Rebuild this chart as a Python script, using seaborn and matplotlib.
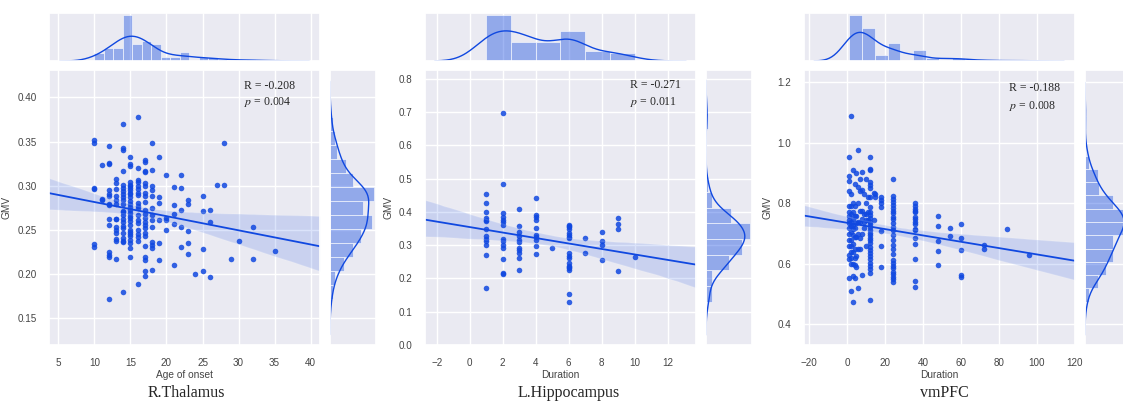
import numpy as np
import pandas as pd
import matplotlib.pyplot as plt
import seaborn as sns

sns.set_theme(style='darkgrid')
plt.rcParams['font.family'] = ['Liberation Sans', 'DejaVu Sans']
plt.rcParams['mathtext.fontset'] = 'stix'

BLUE = '#1048e0'

# R.Thalamus: GMV grouped by age of onset
thal_onset = [10, 11, 12, 13, 14, 15, 16, 17, 18, 19, 20, 21, 22, 23, 24, 25, 26, 27, 28, 29, 30, 32, 35]
thal_gmv = [
    [0.352, 0.349, 0.297, 0.296, 0.234, 0.231],
    [0.323, 0.285, 0.284],
    [0.345, 0.326, 0.325, 0.295, 0.291, 0.288, 0.279, 0.278, 0.263, 0.256, 0.225, 0.222, 0.220, 0.172],
    [0.308, 0.303, 0.296, 0.289, 0.284, 0.279, 0.263, 0.262, 0.254, 0.250, 0.247, 0.240, 0.238, 0.217],
    [0.370, 0.343, 0.340, 0.317, 0.301, 0.297, 0.294, 0.291, 0.287, 0.284, 0.280, 0.272, 0.270,
     0.267, 0.262, 0.259, 0.255, 0.252, 0.247, 0.241, 0.238, 0.236, 0.180],
    [0.333, 0.325, 0.322, 0.304, 0.301, 0.300, 0.298, 0.295, 0.292, 0.291, 0.287, 0.283, 0.279, 0.276,
     0.273, 0.269, 0.266, 0.264, 0.260, 0.256, 0.250, 0.248, 0.246, 0.243, 0.239, 0.235, 0.230, 0.219],
    [0.378, 0.320, 0.307, 0.304, 0.300, 0.296, 0.292, 0.290, 0.281, 0.277, 0.275, 0.267, 0.261, 0.258,
     0.250, 0.246, 0.242, 0.238, 0.189],
    [0.329, 0.327, 0.317, 0.316, 0.303, 0.300, 0.292, 0.288, 0.282, 0.273, 0.268, 0.264, 0.259, 0.256,
     0.252, 0.247, 0.243, 0.232, 0.220, 0.216, 0.204, 0.198],
    [0.349, 0.318, 0.300, 0.295, 0.288, 0.275, 0.267, 0.261, 0.254, 0.236, 0.233, 0.230, 0.205],
    [0.333, 0.287, 0.281, 0.261, 0.235, 0.216],
    [0.312, 0.264, 0.261, 0.250],
    [0.299, 0.278, 0.268, 0.257, 0.210],
    [0.312, 0.297, 0.273, 0.254, 0.231],
    [0.284, 0.280, 0.249, 0.235, 0.223],
    [0.200],
    [0.288, 0.272, 0.229, 0.204],
    [0.273, 0.259, 0.197],
    [0.301],
    [0.349, 0.301],
    [0.217],
    [0.238],
    [0.253, 0.217],
    [0.226],
]

# L.Hippocampus: GMV grouped by duration
hipp_duration = [1, 2, 3, 4, 5, 6, 7, 8, 9, 10]
hipp_gmv = [
    [0.454, 0.427, 0.401, 0.382, 0.377, 0.372, 0.349, 0.327, 0.319, 0.313, 0.302, 0.272, 0.172],
    [0.697, 0.484, 0.397, 0.385, 0.377, 0.369, 0.362, 0.319, 0.314, 0.302, 0.292, 0.259, 0.217, 0.213],
    [0.409, 0.359, 0.341, 0.327, 0.317, 0.309, 0.292, 0.285, 0.277, 0.262, 0.225],
    [0.442, 0.392, 0.385, 0.375, 0.353, 0.332, 0.325, 0.317, 0.299, 0.275],
    [0.291],
    [0.362, 0.357, 0.355, 0.350, 0.338, 0.330, 0.326, 0.322, 0.277, 0.268, 0.261, 0.246, 0.238, 0.234,
     0.231, 0.225, 0.152, 0.130],
    [0.322, 0.277],
    [0.339, 0.312, 0.302, 0.257],
    [0.382, 0.365, 0.349, 0.224],
    [0.265],
]

# vmPFC: GMV grouped by duration
vmpfc_duration = [1, 2, 3, 4, 5, 6, 7, 8, 9, 10, 11, 12, 14, 15, 18, 24, 36, 48, 54, 60, 72, 84, 96]
vmpfc_gmv = [
    [0.955, 0.890, 0.875, 0.840, 0.790, 0.770, 0.760, 0.745, 0.735, 0.720, 0.700, 0.680, 0.660, 0.630, 0.615, 0.555],
    [1.090, 0.830, 0.790, 0.765, 0.740, 0.725, 0.705, 0.680, 0.660, 0.640, 0.620, 0.600, 0.510],
    [0.910, 0.800, 0.770, 0.750, 0.730, 0.715, 0.695, 0.665, 0.640, 0.600, 0.560, 0.475],
    [0.865, 0.790, 0.760, 0.720, 0.690, 0.650, 0.620, 0.595, 0.555],
    [0.900, 0.760, 0.735, 0.690, 0.625, 0.590],
    [0.975, 0.855, 0.800, 0.740, 0.700, 0.650, 0.520],
    [0.880, 0.840, 0.775, 0.740, 0.685, 0.650],
    [0.905, 0.845, 0.775, 0.750, 0.700, 0.565],
    [0.830, 0.765, 0.740, 0.720],
    [0.880, 0.800, 0.765, 0.745, 0.660],
    [0.820, 0.770, 0.745],
    [0.954, 0.915, 0.910, 0.872, 0.862, 0.850, 0.822, 0.789, 0.770, 0.762, 0.751, 0.740, 0.732, 0.723, 0.712,
     0.703, 0.695, 0.686, 0.679, 0.668, 0.657, 0.646, 0.635, 0.626, 0.615, 0.604, 0.593, 0.582, 0.571, 0.480],
    [0.835, 0.745],
    [0.830, 0.820],
    [0.820, 0.810, 0.800, 0.789, 0.710, 0.659, 0.591],
    [0.880, 0.824, 0.814, 0.806, 0.794, 0.786, 0.776, 0.767, 0.756, 0.747, 0.734, 0.723, 0.712, 0.695,
     0.679, 0.662, 0.648, 0.633, 0.613, 0.604, 0.594, 0.585, 0.574, 0.566, 0.557, 0.549, 0.541],
    [0.802, 0.793, 0.783, 0.775, 0.770, 0.755, 0.748, 0.739, 0.731, 0.717, 0.711, 0.687, 0.665, 0.616, 0.544, 0.525],
    [0.759, 0.725, 0.676, 0.643, 0.598],
    [0.719, 0.693],
    [0.731, 0.686, 0.645, 0.563, 0.557],
    [0.664, 0.648],
    [0.717],
    [0.630],
]

titles = ['R.Thalamus', 'L.Hippocampus', 'vmPFC']
x_labels = ['Age of onset', 'Duration', 'Duration']
r_texts = ['R = -0.208', 'R = -0.271', 'R = -0.188']
p_texts = ['0.004', '0.011', '0.008']


def expand(xs, ys):
    x = np.repeat(xs, [len(v) for v in ys])
    y = np.concatenate(ys)
    return pd.DataFrame({'x': x, 'y': y})


W, H = 1123, 403

# pixel layout of each panel: joint left, title centre, limits, text pos, bins
panels = [
    dict(df=expand(thal_onset, thal_gmv), left=49, tx=186.5, xlim=(3.7, 41.3), ylim=(0.12, 0.431),
         xticks=np.arange(5, 41, 5), yticks=np.arange(0.15, 0.41, 0.05), txt=(0.72, 0.942, 0.884),
         xbins=19, ybins=13),
    dict(df=expand(hipp_duration, hipp_gmv), left=425, tx=568.7, xlim=(-2.71, 13.72), ylim=(0.0, 0.827),
         xticks=np.arange(-2, 13, 2), yticks=np.arange(0, 0.81, 0.1), txt=(0.756, 0.945, 0.885),
         xbins=6, ybins=12),
    dict(df=expand(vmpfc_duration, vmpfc_gmv), left=804, tx=944, xlim=(-22.6, 120), ylim=(0.332, 1.241),
         xticks=np.arange(-20, 121, 20), yticks=np.arange(0.4, 1.21, 0.2), txt=(0.757, 0.933, 0.87),
         xbins=14, ybins=14),
]

fig = plt.figure(figsize=(W / 100, H / 100), dpi=100)

for i, pnl in enumerate(panels):
    left = pnl['left']
    df = pnl['df']
    ax = fig.add_axes([left / W, 1 - 345 / H, 271 / W, 275 / H])
    ax_top = fig.add_axes([left / W, 1 - 61 / H, 271 / W, 48 / H], sharex=ax)
    ax_right = fig.add_axes([(left + 281) / W, 1 - 345 / H, 46 / W, 275 / H], sharey=ax)

    ax.set_xlim(pnl['xlim'])
    ax.set_ylim(pnl['ylim'])
    sns.regplot(data=df, x='x', y='y', ax=ax, color=BLUE, truncate=False, seed=0,
                scatter_kws={'s': 16, 'alpha': 0.85, 'linewidths': 0},
                line_kws={'lw': 1.3})
    ax.set_xlim(pnl['xlim'])
    ax.set_ylim(pnl['ylim'])
    ax.set_xticks(pnl['xticks'])
    ax.set_yticks(pnl['yticks'])
    ax.tick_params(labelsize=7.1, pad=3, labelcolor='#444444')
    ax.set_xlabel(x_labels[i], fontsize=7.3, labelpad=2, color='#444444')
    ax.set_ylabel('GMV', fontsize=7.3, labelpad=4, color='#444444')

    tx, ry, py = pnl['txt']
    ax.text(tx, ry, r_texts[i], transform=ax.transAxes, va='center',
            family='Liberation Serif', fontsize=8.5)
    ax.text(tx, py, r'$p$ = ' + p_texts[i], transform=ax.transAxes, va='center',
            family='Liberation Serif', fontsize=8.5)

    # marginal distributions
    sns.histplot(x=df['x'], ax=ax_top, bins=pnl['xbins'], stat='density', kde=True,
                 color=BLUE, alpha=0.4, edgecolor='white', linewidth=0.4,
                 kde_kws={'cut': 3}, line_kws={'lw': 1})
    sns.histplot(y=df['y'], ax=ax_right, bins=pnl['ybins'], stat='density', kde=True,
                 color=BLUE, alpha=0.4, edgecolor='white', linewidth=0.4,
                 kde_kws={'cut': 3}, line_kws={'lw': 1})
    ax.set_xlim(pnl['xlim'])
    ax.set_ylim(pnl['ylim'])

    ax_top.tick_params(labelbottom=False, labelleft=False, length=0)
    ax_top.set_xlabel('')
    ax_top.set_ylabel('')
    ax_top.yaxis.grid(False)
    ax_right.tick_params(labelbottom=False, labelleft=False, length=0)
    ax_right.set_xlabel('')
    ax_right.set_ylabel('')
    ax_right.xaxis.grid(False)

    fig.text(pnl['tx'] / W, 1 - 393 / H, titles[i], ha='center', va='center',
             family='Liberation Serif', fontsize=11.5)

fig.savefig('out.png', dpi=100)
